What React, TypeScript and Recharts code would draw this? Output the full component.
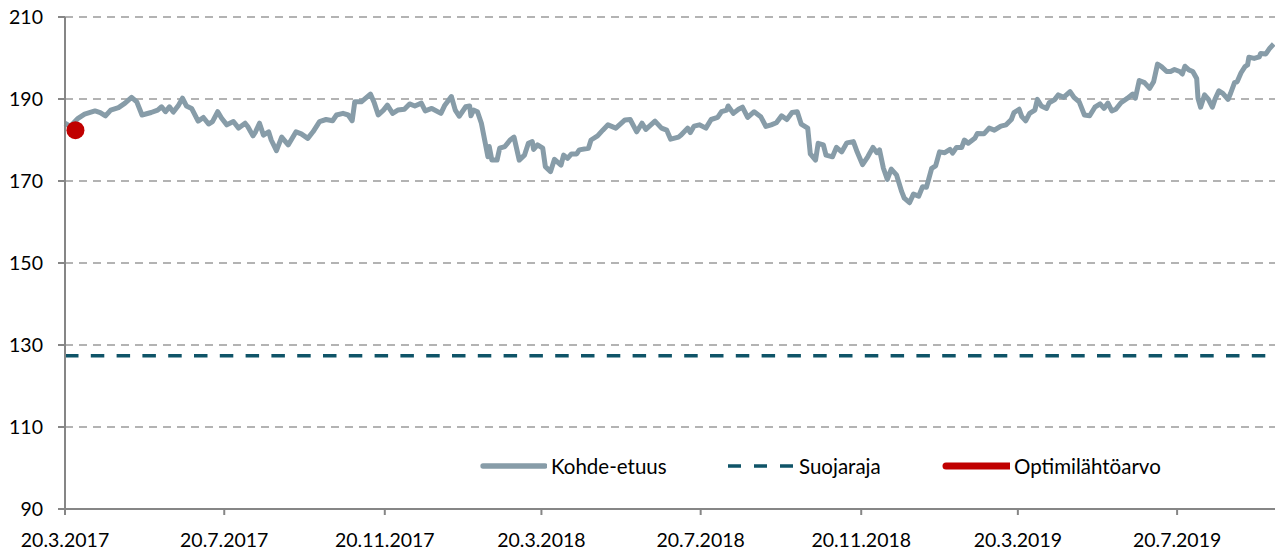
import React from 'react';
import {
  LineChart,
  Line,
  XAxis,
  YAxis,
  CartesianGrid,
  ReferenceLine,
  ReferenceDot
} from 'recharts';

// days since 20.3.2017
const DAYS = [
  0, 4, 10, 15, 23, 27, 31, 35, 41, 46, 51, 55, 59, 66, 71, 74, 77, 80, 83, 87,
  90, 93, 97, 102, 106, 110, 113, 117, 120, 124, 129, 133, 138, 140, 144, 146, 149, 152, 156, 158,
  162, 166, 171, 177, 181, 186, 190, 195, 200, 205, 208, 213, 217, 220, 222, 227, 234, 237, 240, 244,
  247, 251, 255, 260, 264, 268, 273, 276, 281, 288, 291, 296, 299, 302, 307, 310, 311, 313, 316, 319,
  322, 324, 325, 327, 331, 333, 337, 341, 344, 348, 352, 355, 358, 359, 362, 366, 368, 372, 375, 380,
  382, 385, 388, 392, 394, 401, 403, 408, 412, 416, 422, 429, 433, 438, 442, 445, 452, 457, 461, 464,
  470, 472, 477, 479, 482, 486, 491, 495, 500, 503, 507, 508, 512, 516, 519, 523, 528, 533, 537, 541,
  545, 549, 553, 557, 561, 564, 569, 571, 575, 577, 581, 583, 588, 591, 595, 599, 604, 607, 611, 615,
  619, 622, 624, 627, 630, 633, 637, 641, 643, 647, 650, 654, 657, 660, 664, 667, 670, 674, 678, 680,
  683, 687, 689, 692, 697, 699, 704, 708, 712, 717, 721, 725, 727, 731, 733, 736, 739, 743, 745, 748,
  752, 754, 758, 761, 765, 770, 773, 777, 781, 785, 789, 793, 796, 799, 802, 805, 809, 814, 818, 820,
  823, 827, 831, 834, 837, 840, 844, 847, 850, 854, 856, 858, 861, 864, 867, 868, 870, 873, 876, 879,
  881, 884, 887, 891, 893, 896, 898, 901, 904, 906, 907, 911, 915, 916, 920, 923, 926
];

const KOHDE = [
  184.1, 183.3, 185.3, 186.3, 187.1, 186.7, 185.9, 187.3, 187.9, 189.0, 190.4, 189.3, 186.1, 186.7, 187.3, 188.1, 186.9, 188.1, 186.8, 188.5,
  190.2, 188.3, 187.7, 184.6, 185.5, 183.9, 184.5, 186.9, 185.3, 183.7, 184.5, 182.9, 184.1, 183.3, 181.0, 182.0, 184.1, 181.2, 182.0, 180.0,
  177.4, 180.7, 178.8, 182.0, 181.5, 180.4, 182.0, 184.5, 185.0, 184.7, 186.1, 186.5, 186.1, 184.7, 189.3, 189.3, 191.2, 189.0, 186.1, 187.3,
  188.5, 186.5, 187.3, 187.5, 188.8, 188.3, 189.0, 187.1, 187.7, 186.5, 188.5, 190.6, 187.3, 185.8, 188.1, 188.3, 185.9, 187.3, 186.9, 184.1,
  179.2, 175.9, 178.4, 175.1, 175.1, 178.0, 178.4, 180.0, 180.7, 175.1, 176.3, 179.2, 179.6, 177.7, 178.8, 178.0, 173.5, 172.3, 175.3, 173.9,
  176.3, 175.5, 176.6, 176.6, 177.6, 178.0, 180.0, 181.0, 182.4, 183.7, 182.9, 184.9, 185.0, 182.0, 184.1, 182.6, 184.6, 182.9, 182.4, 180.2,
  180.7, 181.2, 182.9, 181.8, 183.4, 183.7, 182.9, 185.0, 185.5, 186.9, 187.3, 188.3, 186.5, 187.5, 188.0, 185.5, 186.9, 185.7, 183.3, 183.7,
  184.2, 185.9, 185.0, 186.7, 186.9, 183.9, 182.9, 176.6, 175.1, 179.2, 178.8, 176.3, 175.9, 178.2, 177.1, 179.3, 179.6, 177.0, 174.0, 175.9,
  178.2, 176.9, 177.6, 173.1, 170.4, 172.9, 171.5, 167.4, 165.8, 164.7, 166.8, 166.3, 168.6, 168.5, 173.1, 173.7, 177.1, 176.9, 177.7, 176.8,
  178.2, 178.2, 180.0, 179.2, 180.4, 181.6, 181.5, 182.9, 182.4, 183.4, 183.7, 185.0, 186.7, 187.5, 185.7, 184.7, 186.5, 187.3, 189.9, 188.3,
  187.7, 189.1, 189.8, 191.0, 190.4, 191.8, 190.4, 189.3, 186.1, 185.9, 188.0, 188.8, 187.7, 189.0, 187.1, 187.5, 189.1, 190.2, 191.2, 190.2,
  194.5, 194.0, 192.6, 194.2, 198.5, 197.9, 196.7, 196.7, 197.2, 196.7, 196.1, 198.0, 197.1, 196.7, 195.0, 190.2, 188.0, 191.0, 189.9, 188.0,
  189.9, 192.0, 191.4, 189.9, 191.4, 194.0, 194.2, 196.4, 197.9, 198.3, 200.2, 199.9, 200.3, 201.1, 201.0, 202.4, 203.4
];

const SUOJARAJA = 127.4;
const OPTIMI_DAY = 8;
const OPTIMI_VALUE = 182.4;

const TICK_DATES = [
  '2017-03-20', '2017-07-20', '2017-11-20', '2018-03-20',
  '2018-07-20', '2018-11-20', '2019-03-20', '2019-07-20'
];
const Y_TICKS = [90, 110, 130, 150, 170, 190, 210];

const START = Date.UTC(2017, 2, 20);
const DAY_MS = 86400000;
const END_DAY = 927;

const toTime = (d: number) => START + d * DAY_MS;

const data = DAYS.map((d, i) => ({ t: toTime(d), value: KOHDE[i] }));
const xTicks = TICK_DATES.map((s) => Date.parse(s));

const fmtDate = (t: number) => {
  const d = new Date(t);
  return `${d.getUTCDate()}.${d.getUTCMonth() + 1}.${d.getUTCFullYear()}`;
};

const GRAY = '#879ca8';
const TEAL = '#0f5468';
const RED = '#c00000';
const AXIS = '#868686';

const tickStyle = { fill: '#000', fontSize: 19.5, fontFamily: 'Lato' };

const LegendItem = ({ left, icon, label }: { left: number; icon: React.ReactNode; label: string }) => (
  <div style={{ position: 'absolute', left, top: 0, display: 'flex', alignItems: 'center', height: 24 }}>
    <svg width={68} height={10} style={{ display: 'block' }}>{icon}</svg>
    <span style={{ marginLeft: 4, whiteSpace: 'nowrap' }}>{label}</span>
  </div>
);

export default function App() {
  return (
    <div style={{ position: 'absolute', left: 0, top: 0, width: 1275, height: 552, background: '#fff', fontFamily: 'Lato' }}>
      <LineChart width={1275} height={552} data={data} margin={{ top: 17, right: 0, bottom: 0, left: 0 }}>
        <CartesianGrid vertical={false} stroke="#9a9a9a" strokeWidth={1.5} strokeDasharray="8 6" />
        <XAxis
          dataKey="t"
          type="number"
          domain={[toTime(0), toTime(END_DAY)]}
          ticks={xTicks}
          interval={0}
          tickFormatter={fmtDate}
          height={43}
          tickSize={6}
          tickMargin={18}
          stroke={AXIS}
          strokeWidth={2}
          tick={tickStyle}
        />
        <YAxis
          domain={[90, 210]}
          ticks={Y_TICKS}
          interval={0}
          width={65}
          tickSize={7}
          tickMargin={15}
          stroke={AXIS}
          strokeWidth={2}
          tick={tickStyle}
        />
        <ReferenceLine y={SUOJARAJA} stroke={TEAL} strokeWidth={3.5} strokeDasharray="13.5 12.3" />
        <Line
          type="linear"
          dataKey="value"
          stroke={GRAY}
          strokeWidth={5}
          strokeLinejoin="round"
          dot={false}
          isAnimationActive={false}
        />
        <ReferenceDot x={toTime(OPTIMI_DAY)} y={OPTIMI_VALUE} r={9} fill={RED} stroke="none" />
      </LineChart>
      <div style={{ position: 'absolute', left: 0, top: 454, width: 1275, height: 24, fontSize: 20.5, color: '#000' }}>
        <LegendItem
          left={479}
          label="Kohde-etuus"
          icon={<line x1={4} x2={66} y1={5} y2={5} stroke={GRAY} strokeWidth={5.3} strokeLinecap="round" />}
        />
        <LegendItem
          left={727}
          label="Suojaraja"
          icon={<line x1={1} x2={67} y1={5} y2={5} stroke={TEAL} strokeWidth={3.5} strokeDasharray="13 13" />}
        />
        <LegendItem
          left={942}
          label="Optimilähtöarvo"
          icon={<line x1={4} x2={68} y1={5} y2={5} stroke={RED} strokeWidth={7} strokeLinecap="round" />}
        />
      </div>
    </div>
  );
}
